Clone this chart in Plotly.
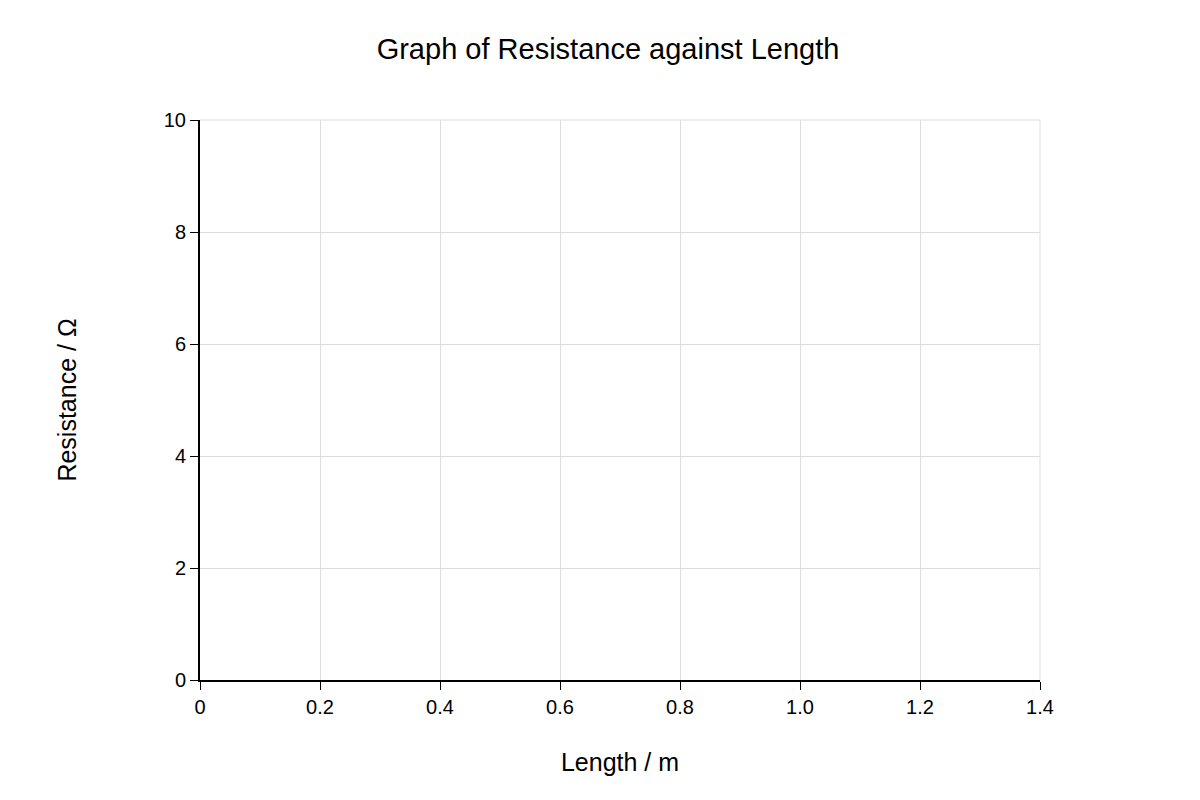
import plotly.graph_objects as go

x_ticks = [0, 0.2, 0.4, 0.6, 0.8, 1.0, 1.2, 1.4]
x_tick_labels = ["0", "0.2", "0.4", "0.6", "0.8", "1.0", "1.2", "1.4"]
y_ticks = [0, 2, 4, 6, 8, 10]
y_tick_labels = ["0", "2", "4", "6", "8", "10"]
length_m = []
resistance_ohm = []

fig = go.Figure(go.Scatter(x=length_m, y=resistance_ohm, mode="markers", showlegend=False))
font = "Liberation Sans, Arial, sans-serif"
fig.update_layout(
    width=1200, height=800,
    margin=dict(l=192, r=168, t=112, b=128),
    paper_bgcolor="white", plot_bgcolor="white",
    font=dict(family=font, color="black", size=20),
    title=dict(text="Graph of Resistance against Length", x=0.5, xanchor="center",
               y=0.949, yanchor="middle", font=dict(size=29)),
    shapes=[
        dict(type="line", xref="paper", yref="paper", x0=0, x1=1, y0=1, y1=1,
             line=dict(color="#dddddd", width=1), layer="below"),
        dict(type="line", xref="paper", yref="paper", x0=1, x1=1, y0=0, y1=1,
             line=dict(color="#dddddd", width=1), layer="below"),
    ],
)
fig.update_xaxes(range=[0, 1.4], tickvals=x_ticks, ticktext=x_tick_labels,
                 showgrid=True, gridcolor="#dddddd", gridwidth=1,
                 showline=True, linecolor="black", linewidth=2,
                 ticks="outside", ticklen=8, tickcolor="black", tickwidth=1,
                 zeroline=False, title=dict(text="Length / m", font=dict(size=25), standoff=36),
                 tickfont=dict(size=20))
fig.update_yaxes(range=[0, 10], tickvals=y_ticks, ticktext=y_tick_labels,
                 showgrid=True, gridcolor="#dddddd", gridwidth=1,
                 showline=True, linecolor="black", linewidth=2,
                 ticks="outside", ticklen=8, tickcolor="black", tickwidth=1,
                 zeroline=False, title=dict(text="Resistance / Ω", font=dict(size=25), standoff=80),
                 tickfont=dict(size=20))
fig.write_html("out.html")
